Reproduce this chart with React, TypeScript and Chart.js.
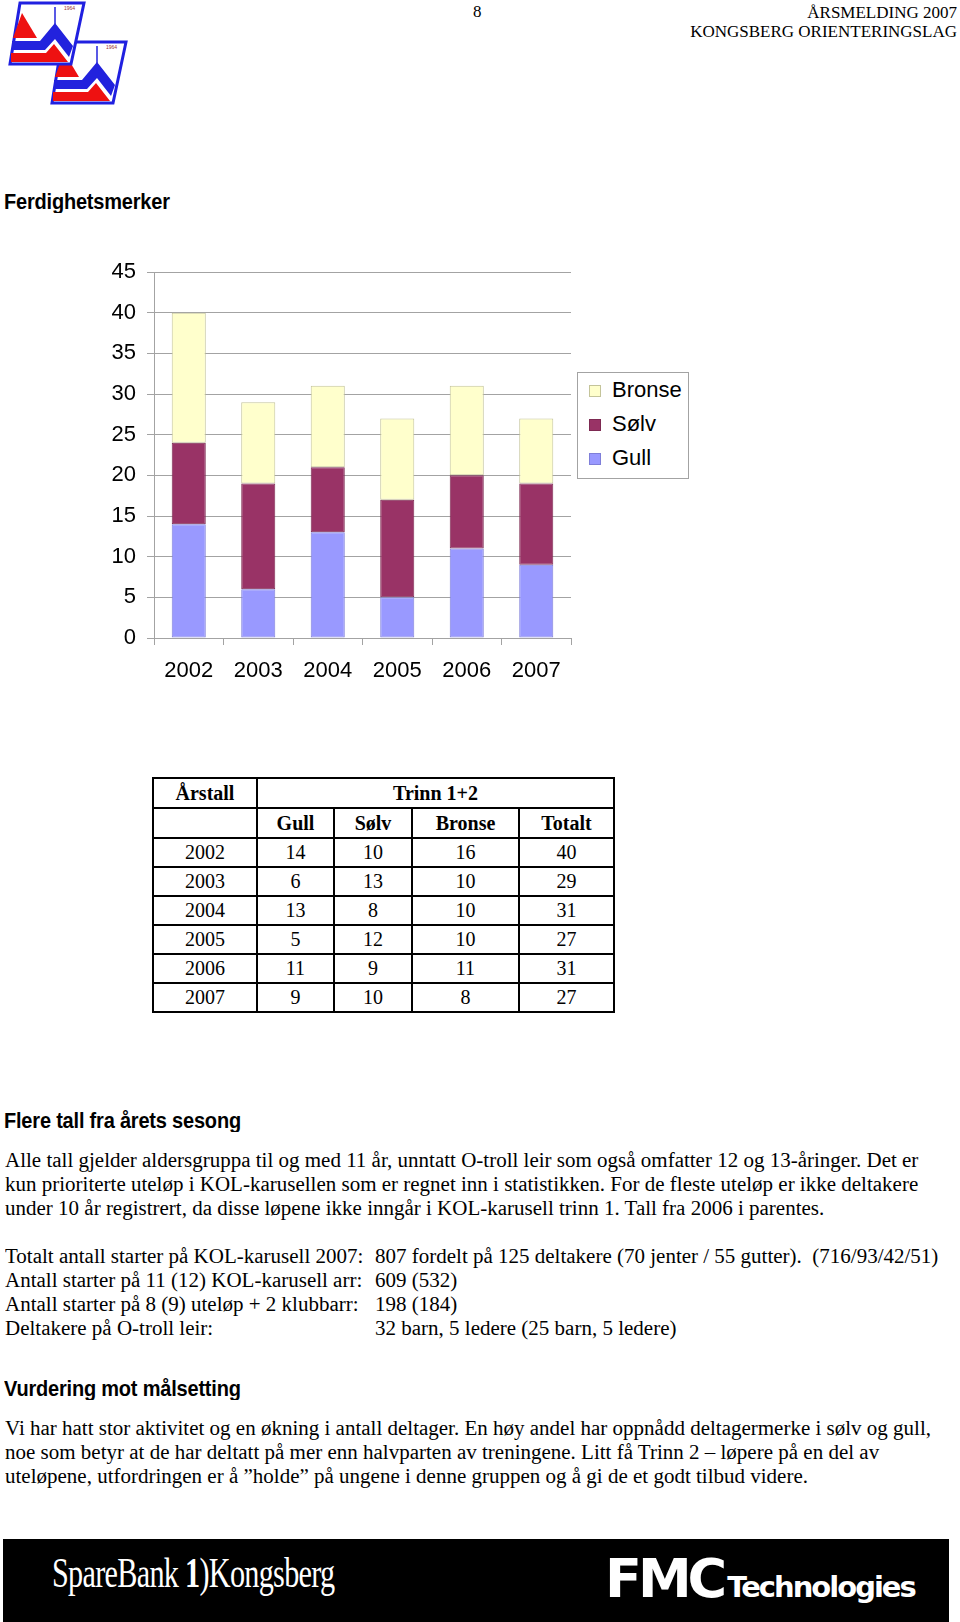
import React, { useEffect, useRef } from 'react';
import { Chart, registerables } from 'chart.js';

Chart.register(...registerables);

// ---- data ----
const YEARS = ['2002', '2003', '2004', '2005', '2006', '2007'];
const GULL = [14, 6, 13, 5, 11, 9];
const SOLV = [10, 13, 8, 12, 9, 10];
const BRONSE = [16, 10, 10, 10, 11, 8];
const TOTALT = [40, 29, 31, 27, 31, 27];
const Y_MAX = 45;
const Y_STEP = 5;
const SERIES_NAMES = ['Gull', 'Sølv', 'Bronse'];
const TABLE_HEAD = ['Årstall', 'Trinn 1+2'];
const TABLE_COLS = ['Gull', 'Sølv', 'Bronse', 'Totalt'];

// ---- styles ----
const SERIES_FILL = ['#9999ff', '#993366', '#ffffcc'];
const SERIES_EDGE = ['#7f7fd9', '#7d2a52', '#c4c49a'];
const GRID = '#a3a3a3';
const SANS = '"Liberation Sans", Arial, Helvetica, sans-serif';
const SERIF = '"Liberation Serif", "Times New Roman", Times, serif';

const PARA1 = [
  'Alle tall gjelder aldersgruppa til og med 11 år, unntatt O-troll leir som også omfatter 12 og 13-åringer. Det er',
  'kun prioriterte uteløp i KOL-karusellen som er regnet inn i statistikken. For de fleste uteløp er ikke deltakere',
  'under 10 år registrert, da disse løpene ikke inngår i KOL-karusell trinn 1. Tall fra 2006 i parentes.',
];
const STATS = [
  ['Totalt antall starter på KOL-karusell 2007:', '807 fordelt på 125 deltakere (70 jenter / 55 gutter).  (716/93/42/51)'],
  ['Antall starter på 11 (12) KOL-karusell arr:', '609 (532)'],
  ['Antall starter på 8 (9) uteløp + 2 klubbarr:', '198 (184)'],
  ['Deltakere på O-troll leir:', '32 barn, 5 ledere (25 barn, 5 ledere)'],
];
const PARA2 = [
  'Vi har hatt stor aktivitet og en økning i antall deltager. En høy andel har oppnådd deltagermerke i sølv og gull,',
  'noe som betyr at de har deltatt på mer enn halvparten av treningene. Litt få Trinn 2 – løpere på en del av',
  'uteløpene, utfordringen er å ”holde” på ungene i denne gruppen og å gi de et godt tilbud videre.',
];

function BarChart() {
  const ref = useRef<HTMLCanvasElement>(null);
  useEffect(() => {
    const series = [GULL, SOLV, BRONSE];
    const chart = new Chart(ref.current as HTMLCanvasElement, {
      type: 'bar',
      data: {
        labels: YEARS,
        datasets: series.map((d, i) => ({
          label: SERIES_NAMES[i],
          data: d,
          backgroundColor: SERIES_FILL[i],
          borderColor: SERIES_EDGE[i],
          borderWidth: 1,
          borderSkipped: false,
          categoryPercentage: 1,
          barPercentage: 0.49,
        })),
      },
      options: {
        animation: false,
        responsive: false,
        maintainAspectRatio: false,
        devicePixelRatio: 1,
        layout: { padding: { top: 32, right: 29, left: 0, bottom: 0 } },
        plugins: { legend: { display: false }, tooltip: { enabled: false }, title: { display: false } },
        scales: {
          x: {
            stacked: true,
            grid: { display: true, drawOnChartArea: false, drawTicks: true, tickLength: 7, color: GRID, offset: true },
            border: { display: true, color: GRID },
            ticks: { color: '#000', font: { family: SANS, size: 22 }, padding: 13, maxRotation: 0 },
            afterFit: (s: any) => { s.height = 62; },
          },
          y: {
            stacked: true,
            min: 0,
            max: Y_MAX,
            grid: { color: GRID, tickLength: 7, drawTicks: true },
            border: { display: true, color: GRID },
            ticks: { stepSize: Y_STEP, color: '#000', font: { family: SANS, size: 22 }, padding: 11 },
            afterFit: (s: any) => { s.width = 74; },
          },
        },
      },
    });
    return () => chart.destroy();
  }, []);
  return (
    <canvas
      ref={ref}
      width={520}
      height={460}
      style={{ position: 'absolute', left: 80, top: 240, width: 520, height: 460 }}
    />
  );
}

function Legend() {
  const order = [2, 1, 0];
  return (
    <div style={{ position: 'absolute', left: 577, top: 372, width: 110, height: 105, border: `1px solid ${GRID}`, background: '#fff' }}>
      {order.map((idx, k) => (
        <div key={idx} style={{ position: 'absolute', left: 11, top: 17 + k * 34 - 12, height: 24, display: 'flex', alignItems: 'center' }}>
          <span style={{ display: 'inline-block', width: 10, height: 10, marginTop: 2, background: SERIES_FILL[idx], border: `1px solid ${SERIES_EDGE[idx]}` }} />
          <span style={{ marginLeft: 11, font: `22px ${SANS}`, color: '#000', lineHeight: '24px' }}>{SERIES_NAMES[idx]}</span>
        </div>
      ))}
    </div>
  );
}

function Logo() {
  const one = (dx: number, dy: number) => (
    <g transform={`translate(${dx},${dy})`}>
      <polygon points="20,3 84,3 71,64 10,64" fill="#fff" stroke="#2020e0" strokeWidth={3} />
      <polygon points="22,13 13,38 37,38" fill="#ee1111" />
      <polygon points="12,41 40,41 55,23 73,46 69,57 55,39 45,50 12,50" fill="#2222dd" />
      <line x1={55} y1={24} x2={55} y2={7} stroke="#2222dd" strokeWidth={1.5} />
      <polygon points="11,53 46,53 54,44 68,62 11,62" fill="#ee1111" />
      <text x={64} y={10} fontSize={5} fill="#993333" fontFamily={SANS}>1964</text>
    </g>
  );
  return (
    <svg width={140} height={110} style={{ position: 'absolute', left: 0, top: 0 }}>
      {one(42, 39)}
      {one(0, 0)}
    </svg>
  );
}

function Table() {
  const colW = [104, 77, 78, 107, 95];
  const td: React.CSSProperties = { border: '2px solid #000', padding: 0, textAlign: 'center', font: `20px ${SERIF}`, color: '#000' };
  const th: React.CSSProperties = { ...td, fontWeight: 'bold' };
  return (
    <table style={{ position: 'absolute', left: 152, top: 777, borderCollapse: 'collapse', tableLayout: 'fixed', width: 461 }}>
      <colgroup>{colW.map((w, i) => <col key={i} style={{ width: w }} />)}</colgroup>
      <tbody>
        <tr style={{ height: 30 }}>
          <td style={th}>{TABLE_HEAD[0]}</td>
          <td style={th} colSpan={4}>{TABLE_HEAD[1]}</td>
        </tr>
        <tr style={{ height: 30 }}>
          <td style={th}></td>
          {TABLE_COLS.map((c) => <td key={c} style={th}>{c}</td>)}
        </tr>
        {YEARS.map((y, i) => (
          <tr key={y} style={{ height: 29 }}>
            <td style={td}>{y}</td>
            <td style={td}>{GULL[i]}</td>
            <td style={td}>{SOLV[i]}</td>
            <td style={td}>{BRONSE[i]}</td>
            <td style={td}>{TOTALT[i]}</td>
          </tr>
        ))}
      </tbody>
    </table>
  );
}

function Line({ x, cy, children, style }: { x: number; cy: number; children: React.ReactNode; style?: React.CSSProperties }) {
  return (
    <div style={{ position: 'absolute', left: x, top: cy - 12, height: 24, lineHeight: '24px', whiteSpace: 'pre', font: `21px ${SERIF}`, color: '#000', transform: 'scaleY(1.03)', ...style }}>
      {children}
    </div>
  );
}

const heading: React.CSSProperties = { font: `bold 20px ${SANS}`, letterSpacing: '-0.2px', transform: 'scaleY(1.1)' };

export default function App() {
  return (
    <div style={{ position: 'absolute', left: 0, top: 0, width: 960, height: 1622, background: '#fff', overflow: 'hidden' }}>
      <Logo />
      <Line x={473} cy={14} style={{ font: `17px ${SERIF}` }}>8</Line>
      <div style={{ position: 'absolute', right: 3, top: 1, textAlign: 'right', font: `17px ${SERIF}`, lineHeight: '20px', whiteSpace: 'nowrap' }}>
        <div style={{ height: 21, lineHeight: '24px' }}>ÅRSMELDING 2007</div>
        <div>KONGSBERG ORIENTERINGSLAG</div>
      </div>

      <Line x={4} cy={202} style={heading}>Ferdighetsmerker</Line>
      <BarChart />
      <Legend />
      <Table />

      <Line x={4} cy={1121} style={heading}>Flere tall fra årets sesong</Line>
      {PARA1.map((t, i) => <Line key={i} x={5} cy={1160 + i * 23.8}>{t}</Line>)}
      {STATS.map((r, i) => (
        <React.Fragment key={i}>
          <Line x={5} cy={1256 + i * 24}>{r[0]}</Line>
          <Line x={375} cy={1256 + i * 24}>{r[1]}</Line>
        </React.Fragment>
      ))}

      <Line x={4} cy={1389} style={heading}>Vurdering mot målsetting</Line>
      {PARA2.map((t, i) => <Line key={i} x={5} cy={1428 + i * 24}>{t}</Line>)}

      <div style={{ position: 'absolute', left: 3, top: 1539, width: 946, height: 90, background: '#000' }}>
        <div style={{ position: 'absolute', left: 49, top: 10, whiteSpace: 'nowrap', color: '#fff', font: `42px ${SERIF}`, transform: 'scaleX(0.72)', transformOrigin: 'left top', letterSpacing: '-1px' }}>
          SpareBank<span style={{ fontWeight: 'bold' }}> 1</span>)Kongsberg
        </div>
        <div style={{ position: 'absolute', left: 602, top: 8, whiteSpace: 'nowrap', color: '#fff' }}>
          <span style={{ font: `900 54px "DejaVu Sans", ${SANS}`, letterSpacing: '-4px' }}>FMC</span>
          <span style={{ font: `bold 29px "DejaVu Sans", ${SANS}`, letterSpacing: '-2px', marginLeft: 4 }}>Technologies</span>
        </div>
      </div>
    </div>
  );
}
